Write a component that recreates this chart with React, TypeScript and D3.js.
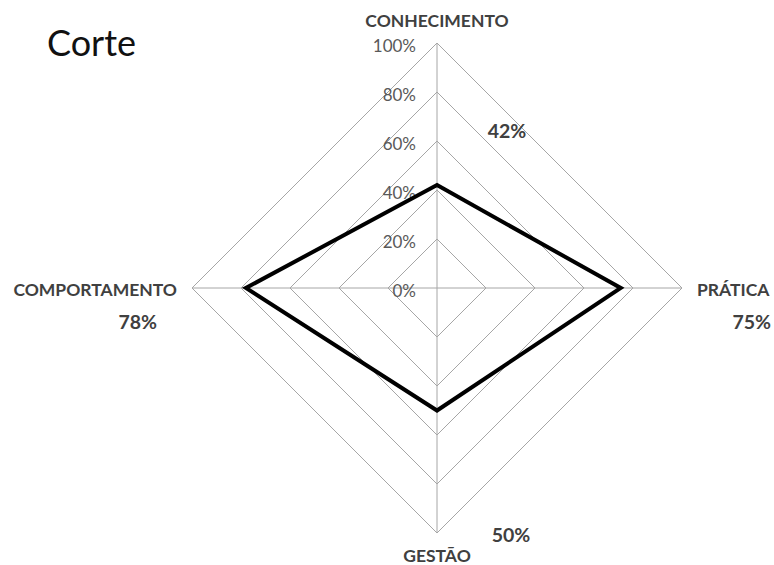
import React from "react";
import * as d3 from "d3";

const categories = ["CONHECIMENTO", "PRÁTICA", "GESTÃO", "COMPORTAMENTO"];
const values = [0.42, 0.75, 0.5, 0.78];
const valueLabels = ["42%", "75%", "50%", "78%"];
const ticks = [0, 0.2, 0.4, 0.6, 0.8, 1.0];
const tickLabels = ["0%", "20%", "40%", "60%", "80%", "100%"];

export default function App() {
  const W = 774, H = 565;
  const cx = 437, cy = 288, R = 245;
  const r = d3.scaleLinear().domain([0, 1]).range([0, R]);
  const angle = (i: number) => (i * Math.PI * 2) / categories.length;
  const pt = (i: number, v: number): [number, number] => [
    cx + r(v) * Math.sin(angle(i)),
    cy - r(v) * Math.cos(angle(i)),
  ];
  const line = d3.line<[number, number]>().curve(d3.curveLinearClosed);
  const font = "Lato, 'Open Sans', sans-serif";

  const catPos: [number, number, string][] = [
    [cx, 27, "middle"],
    [697, 296, "start"],
    [cx, 562, "middle"],
    [177, 296, "end"],
  ];
  const valPos: [number, number, string][] = [
    [507, 138, "middle"],
    [771, 329, "end"],
    [511, 542, "middle"],
    [157, 329, "end"],
  ];

  return (
    <svg width={W} height={H} style={{ position: "absolute", left: 0, top: 0, background: "#fff" }}>
      <text x={47} y={56} fontFamily={font} fontSize={36} fill="#111">Corte</text>
      {ticks.slice(1).map((t, k) => (
        <path
          key={k}
          d={line(categories.map((_, i) => pt(i, t))) || ""}
          fill="none"
          stroke="#a6a6a6"
          strokeWidth={1}
        />
      ))}
      {categories.map((_, i) => {
        const [x, y] = pt(i, 1);
        return <line key={i} x1={cx} y1={cy} x2={x} y2={y} stroke="#a6a6a6" strokeWidth={1} />;
      })}
      {ticks.map((t, k) => (
        <text
          key={k}
          x={cx - 21}
          y={cy - r(t) + 9}
          textAnchor="end"
          fontFamily={font}
          fontSize={17}
          fill="#595959"
        >
          {tickLabels[k]}
        </text>
      ))}
      <path
        d={line(values.map((v, i) => pt(i, v))) || ""}
        fill="none"
        stroke="#000"
        strokeWidth={4}
        strokeLinejoin="miter"
      />
      {categories.map((c, i) => (
        <text
          key={c}
          x={catPos[i][0]}
          y={catPos[i][1]}
          textAnchor={catPos[i][2] as any}
          fontFamily={font}
          fontSize={17.5}
          fontWeight="bold"
          fill="#404040"
        >
          {c}
        </text>
      ))}
      {valueLabels.map((v, i) => (
        <text
          key={i}
          x={valPos[i][0]}
          y={valPos[i][1]}
          textAnchor={valPos[i][2] as any}
          fontFamily={font}
          fontSize={19.5}
          fontWeight="bold"
          fill="#404040"
        >
          {v}
        </text>
      ))}
    </svg>
  );
}
